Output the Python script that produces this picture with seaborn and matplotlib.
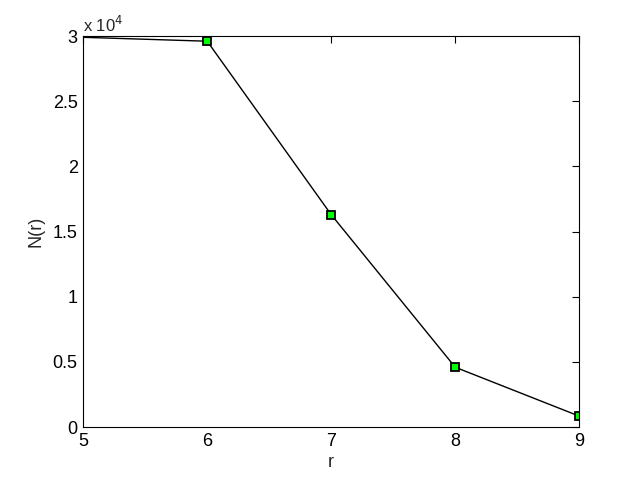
import matplotlib
matplotlib.use("Agg")
import matplotlib.pyplot as plt
import pandas as pd
import seaborn as sns

r_vals = [5, 6, 7, 8, 9]
n_vals = [29900, 29600, 16300, 4600, 850]

df = pd.DataFrame({"r": r_vals, "N": n_vals})

sns.set_style("white")
plt.rcParams['font.family'] = ['Liberation Sans', 'DejaVu Sans']

fig = plt.figure(figsize=(6.4, 4.8), dpi=100)
ax = fig.add_axes([0.13, 0.11, 0.775, 0.815])

sns.lineplot(data=df, x="r", y="N", ax=ax, color="black", linewidth=1,
             marker="s", markersize=6, markerfacecolor="#00ff00",
             markeredgecolor="black", markeredgewidth=1.3,
             markevery=[1, 2, 3, 4])

ax.set_xlim(5, 9)
ax.set_ylim(0, 30000)
ax.set_xticks([5, 6, 7, 8, 9])
ax.set_yticks([0, 5000, 10000, 15000, 20000, 25000, 30000])
ax.set_yticklabels(["0", "0.5", "1", "1.5", "2", "2.5", "3"])
ax.tick_params(direction="in", top=True, right=True, length=5, width=0.8,
               labelsize=13, colors="black", pad=4)
for s in ax.spines.values():
    s.set_color("black")
    s.set_linewidth(0.8)
ax.set_xlabel("r", fontsize=13, labelpad=3)
ax.set_ylabel("N(r)", fontsize=13, labelpad=6)
ax.text(0.0, 1.003, r"x 10$^4$", transform=ax.transAxes, fontsize=12,
        ha="left", va="bottom", math_fontfamily="custom")

fig.savefig("out.png", dpi=100)
